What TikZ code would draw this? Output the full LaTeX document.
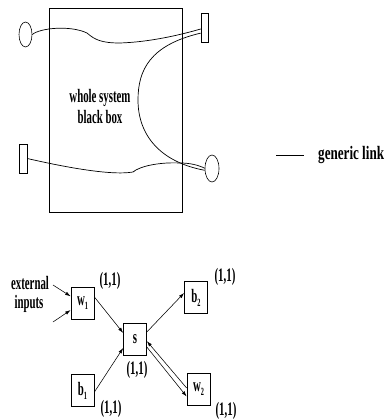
\documentclass[tikz,border=0pt]{standalone}
\usepackage{fontspec}
\setmainfont{Liberation Serif}
\newfontfamily\cf[FakeStretch=0.57]{Liberation Serif}
\newfontfamily\gf[FakeStretch=0.69]{Liberation Serif}
\usetikzlibrary{arrows.meta,calc,shapes.geometric}
\newcommand\subs[1]{\raisebox{-0.45ex}{\fontsize{11}{11}\selectfont #1}}
\begin{document}
\begin{tikzpicture}[x=1pt,y=-1pt,
  txt/.style={font=\cf\bfseries\fontsize{19}{21}\selectfont, inner sep=0pt},
  gtxt/.style={font=\gf\bfseries\fontsize{19}{21}\selectfont, inner sep=0pt},
  box/.style={draw, line width=0.7pt, minimum width=23pt, minimum height=32pt, inner sep=0pt,
    font=\cf\bfseries\fontsize{19}{21}\selectfont},
  port/.style={draw, line width=0.6pt, inner sep=0pt},
  wire/.style={line width=0.7pt},
  arr/.style={-{Latex[length=5.5pt,width=3.5pt]}, line width=0.55pt}]
\useasboundingbox (0,0) rectangle (389,420);

% ---------- top: whole system black box ----------
\node[draw, line width=0.6pt, minimum width=133pt, minimum height=204pt, inner sep=0pt] (sys) at (115.5,110) {};
\node[txt] (t1) at (100,98) {whole system};
\node[txt] (t2) at (100,117) {black box};

\node[port, ellipse, minimum width=13pt, minimum height=25pt] (e1) at (25.5,34.5) {};
\node[port, rectangle, minimum width=7pt, minimum height=29pt] (tr) at (204.5,27.5) {};
\node[port, rectangle, minimum width=8pt, minimum height=29pt] (bl) at (23,158.5) {};
\node[port, ellipse, minimum width=14pt, minimum height=27pt] (e2) at (212,168.5) {};

\draw[wire] (e1.east) .. controls (40,28) and (70,25) .. (87,33)
  .. controls (95,40) and (102,43) .. (120,43)
  .. controls (150,42) and (180,35) .. ($(tr.north west)!0.55!(tr.south west)$);
\draw[wire] ($(tr.north west)!0.69!(tr.south west)$) .. controls (150,45) and (138,70) .. (138,100)
  .. controls (138,135) and (160,162) .. ($(e2.west)+(0,1.8)$);
\draw[wire] (bl.east) .. controls (60,166) and (110,176) .. (133,172)
  .. controls (140,166) and (160,162) .. (180,163)
  .. controls (190,163) and (198,165) .. ($(e2.west)+(0,-0.3)$);

% ---------- legend ----------
\coordinate (g1) at (276,155);
\coordinate (g2) at (304,155);
\draw[line width=0.8pt] (g1) -- (g2);
\node[gtxt, anchor=west] (gl) at (318,155) {generic link};

% ---------- bottom: network ----------
\node[box] (w1) at (82.5,303.5) {w\subs{1}};
\node[box] (s)  at (135,339.5) {s};
\node[box] (b1) at (82.5,390.5) {b\subs{1}};
\node[box] (b2) at (196,297.5) {b\subs{2}};
\node[box] (w2) at (198.5,389) {w\subs{2}};

\node[txt] (l1) at (110,281) {(1,1)};
\node[txt] (l2) at (137,370) {(1,1)};
\node[txt] (l3) at (111,409) {(1,1)};
\node[txt] (l4) at (225,277) {(1,1)};
\node[txt] (l5) at (226,411) {(1,1)};

\node[txt] (ext) at (30,283) {external};
\node[txt] (inp) at (29,303.5) {inputs};

\coordinate (x1) at (53,285);
\coordinate (x2) at (53,322);
\draw[arr] (x1) -- ($(w1.north west)!0.28!(w1.south west)$);
\draw[arr] (x2) -- ($(w1.north west)!0.7!(w1.south west)$);

\draw[arr] ($(w1.north east)!0.3!(w1.south east)$) -- ($(s.north west)!0.3!(s.south west)$);
\draw[arr] ($(b1.north east)!0.55!(b1.south east)$) -- ($(s.north west)!0.76!(s.south west)$);
\draw[arr] ($(s.north east)!0.27!(s.south east)$) -- ($(b2.north west)!0.36!(b2.south west)$);
\draw[arr] ($(w2.north west)!0.47!(w2.south west)$) -- ($(s.north east)!0.55!(s.south east)$);
\draw[arr] ($(s.north east)!0.73!(s.south east)$) -- ($(w2.north west)!0.73!(w2.south west)$);
\end{tikzpicture}
\end{document}
